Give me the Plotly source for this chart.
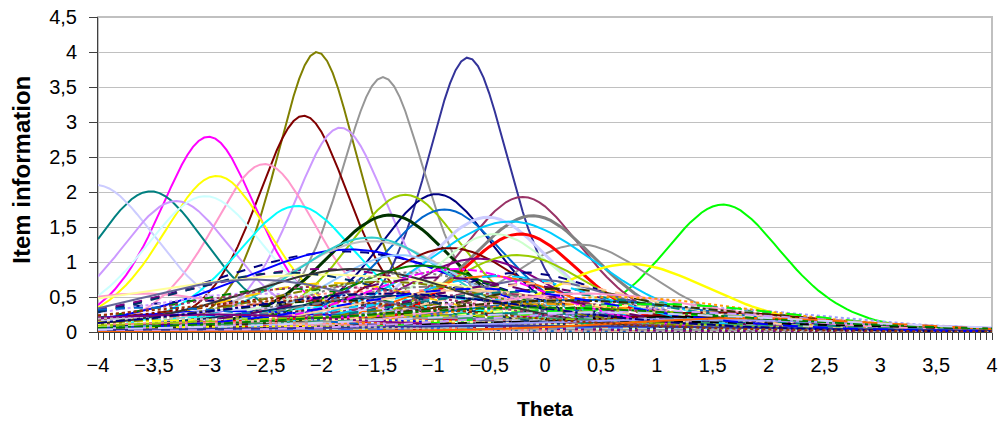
import numpy as np
import plotly.graph_objects as go

# Theta grid (category points of the original chart, step 0.05)
theta = np.round(np.arange(-4, 4.0001, 0.05), 2)

# ---- prominent item curves: peak location, peak height, half-width at half max
prom_center = [-2.04, -0.69, -1.45, -2.16, -1.83, -3.01, -2.51, -2.94, -3.53, -4.02,
               -3.30, -3.04, -2.22, 1.59, -0.20, -0.97, -1.25, -0.90, -1.39, -0.11,
               0.31, -0.51, -0.31, -0.22, 0.76]
prom_peak = [4.00, 3.92, 3.64, 3.09, 2.92, 2.79, 2.40, 2.23, 2.01, 2.10,
             1.87, 1.94, 1.80, 1.82, 1.93, 1.97, 1.96, 1.75, 1.67, 1.66,
             1.25, 1.64, 1.58, 1.40, 0.97]
prom_width = [0.44, 0.445, 0.46, 0.50, 0.515, 0.53, 0.57, 0.59, 0.62, 0.68,
              0.62, 0.66, 0.66, 0.65, 0.65, 0.63, 0.63, 0.68, 0.70, 0.70,
              0.80, 0.69, 0.95, 0.65, 0.90]
prom_color = ["#808000", "#333399", "#969696", "#800000", "#CC99FF", "#FF00FF", "#FF99CC",
              "#FFFF00", "#008080", "#CCCCFF", "#CC99FF", "#CCFFFF", "#00FFFF", "#00FF00",
              "#993366", "#000080", "#99CC00", "#0066CC", "#003300", "#808080", "#969696",
              "#CCCCFF", "#00CCFF", "#FF0000", "#FFFF00"]
prom_lw = [2, 2, 2, 2, 2, 2, 2, 2, 2, 2, 2, 2, 2, 2, 2, 2, 2, 2, 3, 3, 2, 3, 2, 3, 2.5]

# ---- medium item curves
mid_center = [-1.80, -1.75, -2.00, -1.55, -1.57, -0.85, -1.30, -0.45, -0.60, -0.25,
              -1.10, -0.50, -0.20, -0.10, -1.00, -3.60, -2.00]
mid_peak = [1.15, 1.18, 0.90, 1.30, 1.35, 1.20, 1.10, 1.40, 1.05, 1.10,
            0.95, 0.80, 0.85, 0.75, 0.60, 0.55, 0.82]
mid_width = [1.50, 1.25, 1.60, 0.95, 0.85, 0.80, 0.80, 0.70, 0.80, 0.80,
             0.90, 0.90, 1.00, 1.00, 1.20, 1.20, 2.30]
mid_color = ["#000080", "#0000FF", "#800080", "#C0C0C0", "#33CCCC", "#800000", "#99CCFF",
             "#CCFFCC", "#800080", "#99CC00", "#008000", "#FF6600", "#000080", "#666699",
             "#FF8080", "#FF99CC", "#FFFF99"]
mid_dash = ["dash", "solid", "dash", "solid", "solid", "solid", "solid", "solid", "solid",
            "solid", "solid", "solid", "dash", "solid", "dash", "solid", "solid"]

# ---- low-information item curves
low_center = [-3.0, -2.8, -2.6, -2.5, -2.4, -2.3, -2.2, -2.1, -2.0, -1.9,
              -1.8, -1.7, -1.6, -1.5, -1.4, -1.3, -1.2, -1.1, -1.0, -0.9,
              -0.8, -0.7, -0.6, -0.5, -0.4, -0.3, -0.2, -0.1, 0.0, 0.1,
              0.2, 0.3, 0.4, 0.5, 0.7, 0.9, 1.1, 1.3, -2.7, -2.2,
              -1.6, -1.0, -0.4, 0.2, 0.8, -3.2, -1.9, -1.3, -0.7, -0.1,
              0.6, 1.5, -2.4, -0.9, 0.0, -1.5, -2.9, -0.3, 0.4, 1.0,
              -2.3, -1.7, -1.2, -0.8, -0.4, 0.0, -2.6, -1.95, -1.45, -0.95,
              -0.15, 0.35, 0.6, 0.2, 1.0, -3.5, -3.0, -2.0, -1.2, -0.5,
              0.5, 1.2, -2.6, -1.0, 0.8, -1.8, -0.2, -3.6, -1.4, -0.6,
              0.9, 1.8, -2.2, -0.1, 0.4]
low_peak = [0.45, 0.30, 0.55, 0.22, 0.40, 0.62, 0.35, 0.50, 0.28, 0.70,
            0.45, 0.20, 0.58, 0.38, 0.75, 0.30, 0.52, 0.42, 0.65, 0.25,
            0.48, 0.60, 0.33, 0.55, 0.44, 0.68, 0.27, 0.50, 0.40, 0.62,
            0.32, 0.46, 0.24, 0.38, 0.30, 0.42, 0.22, 0.35, 0.18, 0.15,
            0.17, 0.20, 0.16, 0.18, 0.15, 0.25, 0.12, 0.14, 0.12, 0.13,
            0.20, 0.28, 0.10, 0.09, 0.08, 0.10, 0.14, 0.11, 0.10, 0.12,
            0.85, 0.90, 0.85, 0.90, 0.80, 0.70, 0.75, 0.65, 0.72, 0.78,
            0.58, 0.55, 0.50, 0.45, 0.40, 0.35, 0.25, 0.18, 0.24, 0.20,
            0.16, 0.18, 0.08, 0.06, 0.07, 0.05, 0.09, 0.20, 0.55, 0.62,
            0.30, 0.20, 0.45, 0.35, 0.28]
low_width = [1.3, 1.6, 1.4, 1.9, 1.5, 1.3, 1.7, 1.5, 2.0, 1.2,
             1.6, 2.2, 1.4, 1.8, 1.1, 1.9, 1.5, 1.6, 1.3, 2.1,
             1.5, 1.3, 1.8, 1.4, 1.6, 1.2, 2.0, 1.4, 1.6, 1.2,
             1.8, 1.5, 2.0, 1.6, 1.7, 1.4, 1.9, 1.5, 2.2, 2.0,
             1.8, 1.7, 1.9, 2.1, 2.2, 1.5, 1.6, 1.5, 1.8, 1.7,
             1.6, 1.3, 2.0, 2.2, 2.0, 1.9, 1.7, 2.1, 2.3, 2.0,
             1.3, 1.2, 1.1, 1.0, 1.1, 1.2, 1.3, 1.6, 1.4, 1.3,
             1.5, 1.4, 1.6, 1.9, 1.5, 1.4, 1.8, 2.4, 2.3, 2.5,
             2.4, 2.2, 2.6, 2.8, 2.6, 3.0, 2.6, 1.6, 1.7, 1.5,
             1.8, 1.4, 1.9, 2.2, 2.3]

palette = ["#000080", "#FF00FF", "#FFFF00", "#00FFFF", "#800080", "#800000", "#008080",
           "#0000FF", "#00CCFF", "#CCFFFF", "#CCFFCC", "#FFFF99", "#99CCFF", "#FF99CC",
           "#CC99FF", "#FFCC99", "#3366FF", "#33CCCC", "#99CC00", "#FFCC00", "#FF9900",
           "#FF6600", "#666699", "#969696", "#003366", "#339966", "#003300", "#333300",
           "#993300", "#993366", "#333399", "#333333", "#000000", "#FF0000", "#00FF00",
           "#008000", "#808000", "#C0C0C0", "#808080", "#9999FF", "#FF8080", "#0066CC",
           "#CCCCFF", "#660066"]
dashes = ["dash", "solid", "dot", "dashdot", "longdash"]


def info_curve(center, peak, width):
    # item information bell: peak * sech^2, half-max at +/- width
    k = 0.8814 / width
    return peak / np.cosh(k * (theta - center)) ** 2


fig = go.Figure()

for i, (c, p, w) in enumerate(zip(prom_center, prom_peak, prom_width)):
    fig.add_trace(go.Scatter(x=theta, y=info_curve(c, p, w), mode="lines",
                             line=dict(color=prom_color[i], width=prom_lw[i]),
                             hoverinfo="skip"))

for i, (c, p, w) in enumerate(zip(mid_center, mid_peak, mid_width)):
    fig.add_trace(go.Scatter(x=theta, y=info_curve(c, p, w), mode="lines",
                             line=dict(color=mid_color[i], width=2, dash=mid_dash[i]),
                             hoverinfo="skip"))

for i, (c, p, w) in enumerate(zip(low_center, low_peak, low_width)):
    fig.add_trace(go.Scatter(x=theta, y=info_curve(c, p, w), mode="lines",
                             line=dict(color=palette[(i * 7) % len(palette)], width=2,
                                       dash=dashes[i % len(dashes)]),
                             hoverinfo="skip"))

font_family = "Liberation Sans, Arial, sans-serif"
fig.update_layout(
    width=1001, height=423,
    margin=dict(l=98, r=9, t=17, b=91),
    plot_bgcolor="white", paper_bgcolor="white",
    showlegend=False,
    separators=", ",
    font=dict(family=font_family, size=20, color="black"),
    shapes=[dict(type="rect", xref="paper", yref="paper", x0=0, x1=1, y0=0, y1=1,
                 line=dict(color="#C0C0C0", width=2), layer="below")],
    annotations=[
        dict(text="<b>Theta</b>", xref="paper", yref="paper", x=0.5, y=-0.242,
             xanchor="center", yanchor="middle", showarrow=False,
             font=dict(size=21, family=font_family, color="black")),
        dict(text="<b>Item information</b>", xref="paper", yref="paper", x=-0.085, y=0.515,
             xanchor="center", yanchor="middle", showarrow=False, textangle=-90,
             font=dict(size=24, family=font_family, color="black")),
    ],
)
fig.update_xaxes(
    range=[-4, 4], tick0=-4, dtick=0.5, showgrid=False, zeroline=False, automargin=False,
    showline=True, linecolor="#404040", linewidth=1,
    ticks="outside", ticklen=7, tickcolor="#404040", ticklabeloverflow="allow",
    minor=dict(dtick=0.05, ticks="outside", ticklen=7, tickcolor="#404040", showgrid=False),
    tickfont=dict(size=20), ticklabelstandoff=8,
)
fig.update_yaxes(
    range=[0, 4.5], dtick=0.5, showgrid=True, gridcolor="#C0C0C0", gridwidth=1,
    zeroline=False, showline=True, linecolor="#404040", linewidth=1, automargin=False,
    ticks="outside", ticklen=8, tickcolor="#404040", ticklabeloverflow="allow",
    tickfont=dict(size=20), ticklabelstandoff=8,
)

# remove the page's default body margin so the figure sits at the window's corner
fig.write_html("out.html", config={"displayModeBar": False},
               post_script="document.body.style.margin='0';")
